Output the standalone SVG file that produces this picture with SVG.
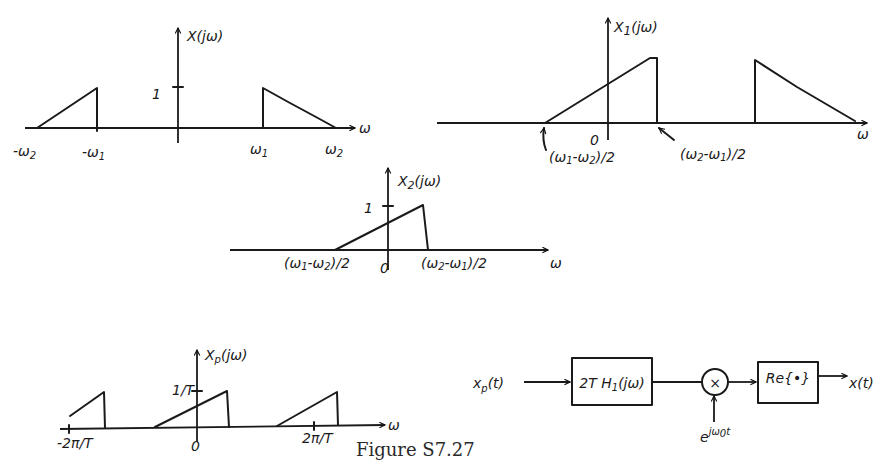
<svg xmlns="http://www.w3.org/2000/svg" width="892" height="474" viewBox="0 0 892 474">
<defs>
<marker id="ah" viewBox="0 0 10 10" refX="9" refY="5" markerWidth="7" markerHeight="7" orient="auto-start-reverse" markerUnits="userSpaceOnUse">
<path d="M1,1 L9,5 L1,9" fill="none" stroke="#111" stroke-width="1.6"/>
</marker>
<style>
.ln{fill:none;stroke:#1a1a1a;stroke-width:2;stroke-linecap:round;stroke-linejoin:round}
.ax{fill:none;stroke:#1a1a1a;stroke-width:1.8;marker-end:url(#ah)}
.t{font-family:"DejaVu Sans","Liberation Sans",sans-serif;font-size:14px;fill:#1a1a1a;font-style:italic}
.s{font-size:10px}
.fig{font-family:"DejaVu Serif","Liberation Serif",serif;font-size:18px;fill:#2a2a2a}
</style>
</defs>
<rect width="892" height="474" fill="#fff"/>

<g id="plot1">
<line class="ax" x1="25" y1="128" x2="355" y2="128"/>
<line class="ax" x1="178" y1="143" x2="178" y2="28"/>
<line class="ln" x1="173" y1="87" x2="183" y2="87"/>
<path class="ln" d="M37,128 L97,88 L97,128"/>
<path class="ln" d="M263,128 L263,88 L290,103 Q318,118 336,128"/>
<line class="ln" x1="97" y1="125" x2="97" y2="131"/>
<text class="t" x="187" y="41" font-size="19">X(jω)</text>
<text class="t" x="152" y="99" font-size="17">1</text>
<text class="t" x="359" y="133" font-size="16">ω</text>
<text class="t" x="13" y="156" font-size="15">-ω<tspan class="s" dy="3">2</tspan></text>
<text class="t" x="82" y="157" font-size="15">-ω<tspan class="s" dy="3">1</tspan></text>
<text class="t" x="250" y="154" font-size="15">ω<tspan class="s" dy="3">1</tspan></text>
<text class="t" x="325" y="154" font-size="15">ω<tspan class="s" dy="3">2</tspan></text>
</g>

<g id="plot2">
<line class="ax" x1="437" y1="123" x2="867" y2="123"/>
<line class="ax" x1="608" y1="140" x2="608" y2="18"/>
<path class="ln" d="M545,123 L650,58 L657,58 L657,123"/>
<path class="ln" d="M755,123 L755,60 L797,87 L855,121"/>
<text class="t" x="614" y="32" font-size="18">X<tspan font-size="12" dy="3">1</tspan><tspan dy="-3">(jω)</tspan></text>
<text class="t" x="857" y="139" font-size="16">ω</text>
<text class="t" x="590" y="145" font-size="13">0</text>
<path class="ln" d="M546,150 Q542,140 544,128" stroke-width="1.6" marker-end="url(#ah)"/>
<text class="t" x="549" y="162" font-size="13">(ω<tspan class="s" dy="2">1</tspan><tspan dy="-2">-ω</tspan><tspan class="s" dy="2">2</tspan><tspan dy="-2">)/2</tspan></text>
<line class="ln" x1="674" y1="140" x2="659" y2="128" stroke-width="1.6" marker-end="url(#ah)"/>
<text class="t" x="680" y="159" font-size="14">(ω<tspan class="s" dy="2">2</tspan><tspan dy="-2">-ω</tspan><tspan class="s" dy="2">1</tspan><tspan dy="-2">)/2</tspan></text>
</g>

<g id="plot3">
<line class="ax" x1="230" y1="250" x2="548" y2="250"/>
<line class="ax" x1="388" y1="270" x2="388" y2="168"/>
<line class="ln" x1="383" y1="206" x2="393" y2="206"/>
<path class="ln" d="M335,250 L423,205 L428,250"/>
<text class="t" x="398" y="186" font-size="17">X<tspan font-size="11" dy="3">2</tspan><tspan dy="-3">(jω)</tspan></text>
<text class="t" x="364" y="213" font-size="16">1</text>
<text class="t" x="550" y="268" font-size="16">ω</text>
<text class="t" x="284" y="268" font-size="13">(ω<tspan class="s" dy="2">1</tspan><tspan dy="-2">-ω</tspan><tspan class="s" dy="2">2</tspan><tspan dy="-2">)/2</tspan></text>
<text class="t" x="380" y="273" font-size="14">0</text>
<text class="t" x="421" y="268" font-size="13">(ω<tspan class="s" dy="2">2</tspan><tspan dy="-2">-ω</tspan><tspan class="s" dy="2">1</tspan><tspan dy="-2">)/2</tspan></text>
</g>

<g id="plot4">
<line class="ax" x1="60" y1="429" x2="385" y2="425"/>
<line class="ax" x1="197" y1="442" x2="197" y2="350"/>
<line class="ln" x1="192" y1="391" x2="202" y2="391"/>
<line class="ln" x1="69" y1="425" x2="69" y2="433"/>
<line class="ln" x1="314" y1="422" x2="314" y2="430"/>
<path class="ln" d="M70,416 L104,392 L105,428"/>
<path class="ln" d="M155,427 L227,391 L229,427"/>
<path class="ln" d="M277,426 L337,392 L338,425"/>
<text class="t" x="205" y="360" font-size="15">X<tspan class="s" dy="3">p</tspan><tspan dy="-3">(jω)</tspan></text>
<text class="t" x="172" y="395" font-size="12">1/T</text>
<text class="t" x="388" y="430" font-size="15">ω</text>
<text class="t" x="57" y="448" font-size="11">-2π/T</text>
<text class="t" x="191" y="451" font-size="15">0</text>
<text class="t" x="302" y="443" font-size="11">2π/T</text>
<text class="fig" x="356" y="456">Figure S7.27</text>
</g>

<g id="connectors">
<line class="ax" x1="524" y1="382" x2="570" y2="382"/>
<line class="ln" x1="652" y1="382" x2="702" y2="382"/>
<line class="ax" x1="728" y1="382" x2="756" y2="382"/>
<line class="ax" x1="818" y1="376" x2="847" y2="376"/>
<line class="ax" x1="714" y1="422" x2="714" y2="396"/>
</g>

<g id="xp">
<text class="t" x="473" y="388" font-size="16">x<tspan class="s" dy="4">p</tspan><tspan dy="-4">(t)</tspan></text>
</g>
<g id="h1">
<rect class="ln" x="572" y="358" width="80" height="47"/>
<text class="t" x="612" y="388" text-anchor="middle" font-size="13">2T H<tspan class="s" dy="3">1</tspan><tspan dy="-3">(jω)</tspan></text>
</g>
<g id="mult">
<circle class="ln" cx="715" cy="382" r="13"/>
<text class="t" x="715" y="388" text-anchor="middle" font-size="16" font-style="normal">×</text>
</g>
<g id="re">
<rect class="ln" x="758" y="362" width="60" height="41"/>
<text class="t" x="788" y="383" text-anchor="middle" font-size="14">Re{•}</text>
</g>
<g id="xt">
<text class="t" x="849" y="388" font-size="16">x(t)</text>
</g>
<g id="exp">
<text class="t" x="700" y="442" font-size="15">e<tspan class="s" dy="-7">jω</tspan><tspan class="s" font-size="8" dy="2">0</tspan><tspan class="s" dy="-2">t</tspan></text>
</g>
</svg>
